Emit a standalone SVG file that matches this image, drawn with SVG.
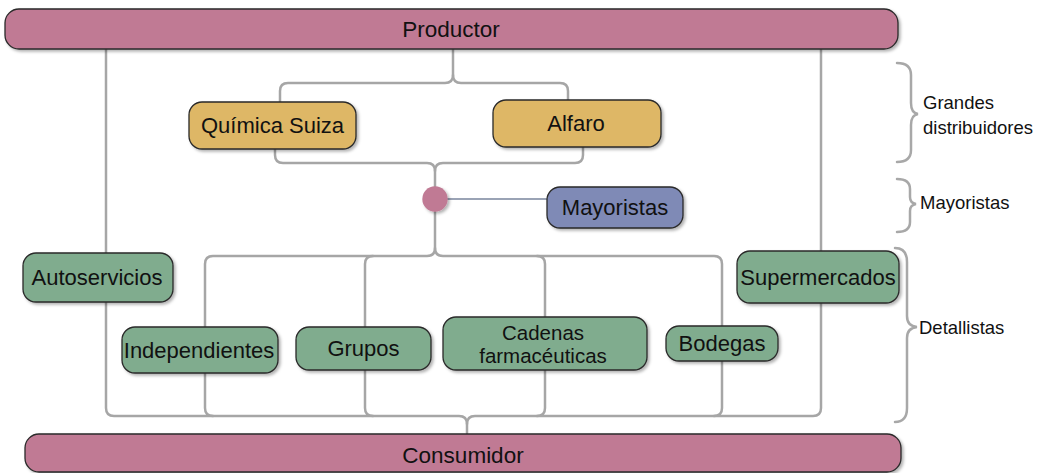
<svg xmlns="http://www.w3.org/2000/svg" width="1043" height="473" viewBox="0 0 1043 473">
<style>
.lbl{font-family:"Liberation Sans",Arial,sans-serif;font-size:22px;fill:#111;text-anchor:middle}
.bar{font-size:22.5px}
.two{font-size:20.5px}
.side{font-family:"Liberation Sans",Arial,sans-serif;font-size:18.5px;fill:#111}
.box{stroke:#2a2a2a;stroke-width:1.3}
.pink{fill:#c07a94}
.gold{fill:#deb766}
.green{fill:#80ac8e}
.blue{fill:#7f8ab6}
.con{fill:none;stroke:#a6a6a6;stroke-width:2.5;stroke-linecap:round;stroke-linejoin:round}
.brace{fill:none;stroke:#a8a8a8;stroke-width:2.5;stroke-linecap:round}
</style>
<defs>
<filter id="sh" x="-10%" y="-20%" width="130%" height="150%">
<feDropShadow dx="2" dy="2" stdDeviation="1.5" flood-color="#000" flood-opacity="0.3"/>
</filter>
</defs>
<rect width="1043" height="473" fill="#fff"/>
<g id="connectors">
<path class="con" d="M453,49 V75 Q453,83 445,83 H288 Q280,83 280,91 V102"/>
<path class="con" d="M453,75 Q453,83 461,83 H560 Q568,83 568,91 V100"/>
<path class="con" d="M275,149 V155 Q275,163 283,163 H427 Q435,163 435,171 V187"/>
<path class="con" d="M583,147 V155 Q583,163 575,163 H443 Q435,163 435,171"/>
<path d="M447,199 H547" fill="none" stroke="#9aa3b5" stroke-width="2"/>
<path class="con" d="M435,212 V248 Q435,256 427,256 H213 Q205,256 205,264 V408 Q205,416 213,416"/>
<path class="con" d="M373,256 Q365,256 365,264 V408 Q365,416 373,416"/>
<path class="con" d="M435,248 Q435,256 443,256 H714 Q722,256 722,264 V408 Q722,416 714,416"/>
<path class="con" d="M537,256 Q545,256 545,264 V408 Q545,416 537,416"/>
<path class="con" d="M106,49 V408 Q106,416 114,416 H459 Q467,416 467,424 V433"/>
<path class="con" d="M821,49 V408 Q821,416 813,416 H475 Q467,416 467,424"/>
</g>
<g id="productor">
<rect class="box pink" x="5" y="9" width="893" height="40" rx="14" filter="url(#sh)"/>
<text class="lbl bar" x="451" y="36.8">Productor</text>
</g>
<g id="consumidor">
<rect class="box pink" x="25" y="434" width="876" height="38" rx="14" filter="url(#sh)"/>
<text class="lbl bar" x="463" y="462.8">Consumidor</text>
</g>
<g id="quimica-suiza">
<rect class="box gold" x="189" y="102" width="167" height="47" rx="13" filter="url(#sh)"/>
<text class="lbl" x="272.5" y="133.3">Química Suiza</text>
</g>
<g id="alfaro">
<rect class="box gold" x="493" y="100" width="168" height="47" rx="13" filter="url(#sh)"/>
<text class="lbl" x="576" y="131.3">Alfaro</text>
</g>
<g id="hub">
<circle cx="435" cy="199" r="12.7" fill="#c07a94" filter="url(#sh)"/>
</g>
<g id="mayoristas">
<rect class="box blue" x="547" y="187" width="136" height="41" rx="13" filter="url(#sh)"/>
<text class="lbl" x="615" y="215.3">Mayoristas</text>
</g>
<g id="autoservicios">
<rect class="box green" x="23" y="253" width="150" height="49" rx="13" filter="url(#sh)"/>
<text class="lbl" x="97" y="285.3">Autoservicios</text>
</g>
<g id="supermercados">
<rect class="box green" x="737" y="251" width="162" height="52" rx="13" filter="url(#sh)"/>
<text class="lbl" x="818" y="284.8">Supermercados</text>
</g>
<g id="independientes">
<rect class="box green" x="122" y="327" width="156" height="46" rx="13" filter="url(#sh)"/>
<text class="lbl" x="199" y="357.8">Independientes</text>
</g>
<g id="grupos">
<rect class="box green" x="296" y="327" width="135" height="43" rx="13" filter="url(#sh)"/>
<text class="lbl" x="363.5" y="356.3">Grupos</text>
</g>
<g id="cadenas">
<rect class="box green" x="443" y="317" width="204" height="53" rx="13" filter="url(#sh)"/>
<text class="lbl two" x="543" y="340">Cadenas</text>
<text class="lbl two" x="543" y="363">farmacéuticas</text>
</g>
<g id="bodegas">
<rect class="box green" x="666" y="326" width="112" height="35" rx="13" filter="url(#sh)"/>
<text class="lbl" x="722" y="350.8">Bodegas</text>
</g>
<g id="brace-grandes">
<path class="brace" d="M897,63 Q911,63 911,75 V103 Q911,113 918,114 Q911,115 911,125 V150 Q911,162 897,162"/>
<text class="side" x="923" y="108.5">Grandes</text>
<text class="side" x="923" y="133.5">distribuidores</text>
</g>
<g id="brace-mayoristas">
<path class="brace" d="M897,179 Q910,179 910,189 V197 Q910,203 916,204 Q910,205 910,211 V222 Q910,232 897,232"/>
<text class="side" x="920" y="208.8">Mayoristas</text>
</g>
<g id="brace-detallistas">
<path class="brace" d="M895,248 Q907,248 907,262 V316 Q907,326 917,327 Q907,328 907,338 V408 Q907,422 895,422"/>
<text class="side" x="919" y="333.8">Detallistas</text>
</g>
</svg>
